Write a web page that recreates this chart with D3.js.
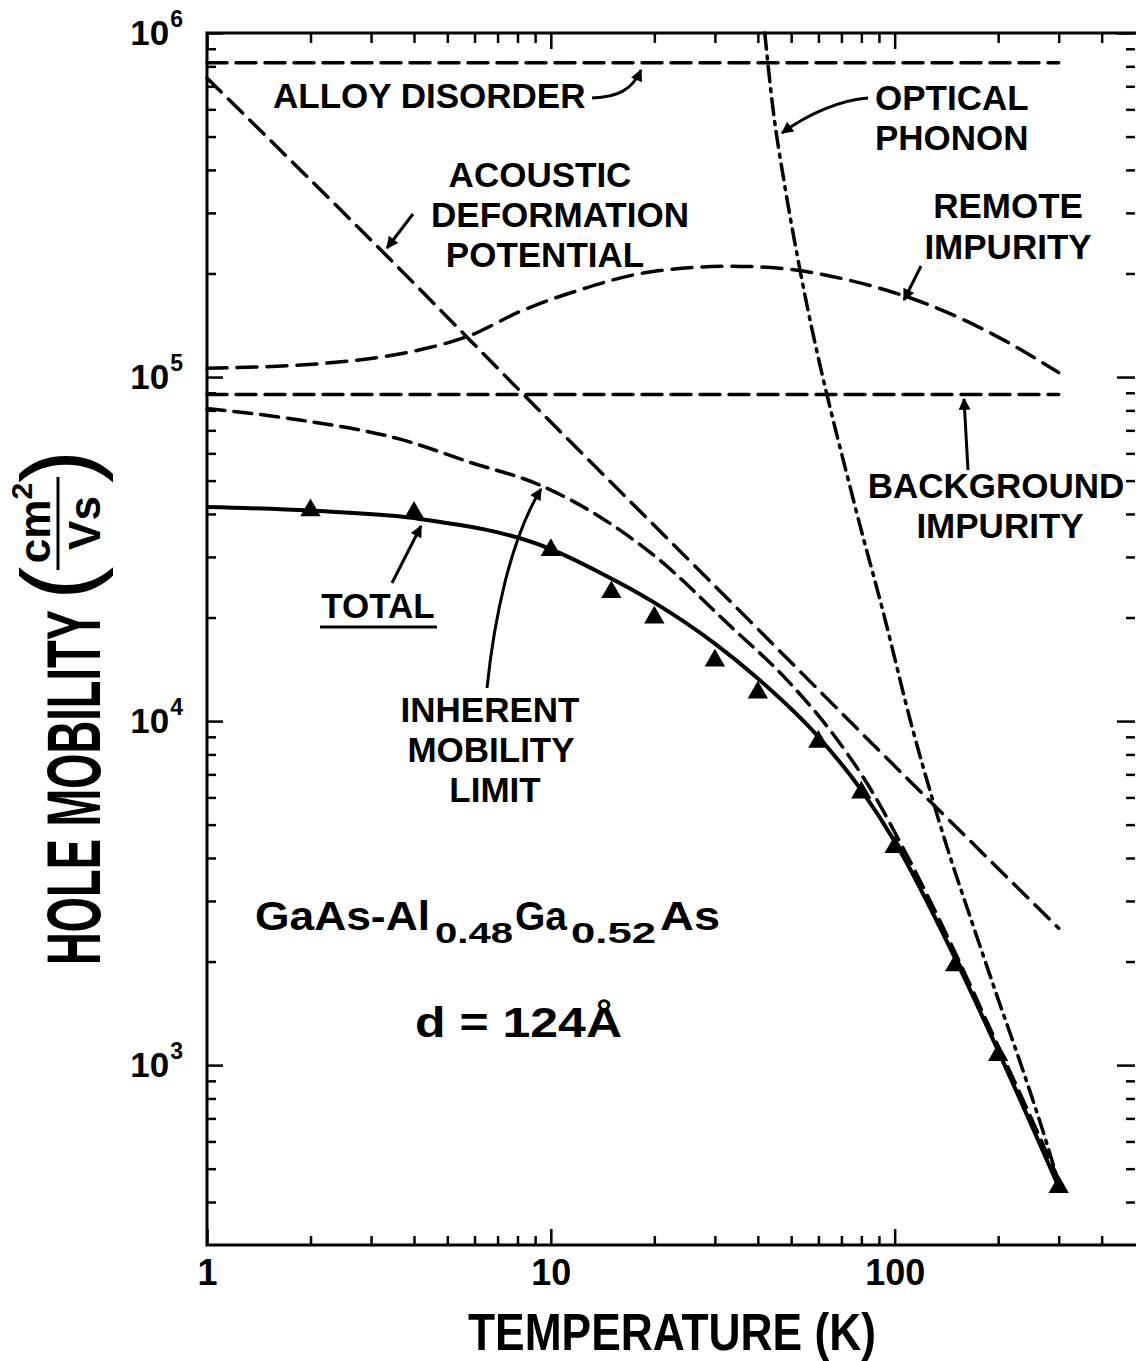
<!DOCTYPE html>
<html>
<head>
<meta charset="utf-8">
<script src="https://cdn.jsdelivr.net/npm/d3@7"></script>
<style>
  body { margin: 0; background: #fff; }
  svg { display: block; }
  text { font-family: "Liberation Sans", Arial, Helvetica, sans-serif; font-weight: bold; fill: #000; }
</style>
</head>
<body>
<div id="chart"></div>
<script>
// ---- data (T in K, mobility in cm^2/Vs) ----
const alloyT = [1, 300];
const alloyMu = [8.2e5, 8.2e5];

const backgroundT = [1, 300];
const backgroundMu = [8.9e4, 8.9e4];

const acousticT = [1, 3, 10, 30, 100, 300];
const acousticMu = [7.4e5, 2.5e5, 7.4e4, 2.47e4, 7.4e3, 2.5e3];

const remoteT = [1, 2.28, 4.16, 5.82, 8.13, 12.1, 19.4, 33.1, 46.3, 74, 126, 202, 300];
const remoteMu = [1.06e5, 1.1e5, 1.2e5, 1.32e5, 1.55e5, 1.79e5, 2.02e5, 2.1e5, 2.07e5, 1.91e5, 1.62e5, 1.3e5, 1.03e5];

const opticalT = [41.9, 44.2, 47.9, 52.6, 76.5, 92.3, 113, 129, 142, 167, 198, 236, 278, 300];
const opticalMu = [1e6, 6.1e5, 3.6e5, 2.14e5, 4.25e4, 2.1e4, 9.4e3, 5.9e3, 4.3e3, 2.64e3, 1.6e3, 966, 585, 454];

const inherentT = [1, 1.86, 3.64, 5.8, 9.3, 13.9, 20.7, 32.5, 48.5, 66, 86.3, 103, 124, 144, 198, 259, 300];
const inherentMu = [8.1e4, 7.5e4, 6.6e4, 5.66e4, 4.85e4, 3.92e4, 2.94e4, 1.93e4, 1.32e4, 9.2e3, 6.2e3, 4.5e3, 3.14e3, 2.31e3, 1.16e3, 646, 463];

const totalT = [1, 2, 4, 10, 14, 20, 30, 40, 60, 80, 100, 150, 200, 300];
const totalMu = [4.19e4, 4.09e4, 3.89e4, 3.16e4, 2.69e4, 2.21e4, 1.68e4, 1.33e4, 9.0e3, 6.3e3, 4.47e3, 2.04e3, 1.1e3, 442];

const dataT = [2, 4, 10, 15, 20, 30, 40, 60, 80, 100, 150, 200, 300];
const dataMu = [4.1e4, 4.03e4, 3.14e4, 2.37e4, 2.0e4, 1.5e4, 1.21e4, 8.7e3, 6.2e3, 4.3e3, 1.95e3, 1.07e3, 442];

const xMajor = [1, 10, 100];
const xLabels = ['1', '10', '100'];
const yMajor = [1e3, 1e4, 1e5, 1e6];
const yExp = ['3', '4', '5', '6'];

// ---- layout ----
const W = 1136, H = 1361;
const x0 = 207, x1 = 1135, y0 = 33, y1 = 1245;

const svg = d3.select('#chart').append('svg')
  .attr('width', W).attr('height', H);

const x = d3.scaleLog().domain([1, 500]).range([x0, x1]);
const y = d3.scaleLog().domain([300, 1e6]).range([y1, y0]);

const xMinor = x.ticks().filter(d => !xMajor.includes(d) && d < 500);
const yMinor = y.ticks().filter(d => !yMajor.includes(d) && d > 300);

// axes: ticks point inward on all four sides
function styleAxis(g, w) {
  g.select('.domain').remove();
  g.selectAll('.tick line').attr('stroke', '#000').attr('stroke-width', w);
}

// bottom
svg.append('g').attr('transform', `translate(0,${y1})`)
  .call(d3.axisBottom(x).tickValues(xMajor).tickSizeInner(-16).tickSizeOuter(0)
    .tickPadding(14).tickFormat((d, i) => xLabels[i]))
  .call(g => styleAxis(g, 2.5))
  .call(g => g.selectAll('text').attr('font-size', 36).attr('dy', '0.72em')
    .style('font-family', '"Liberation Sans", Arial, sans-serif').style('font-weight', 'bold'));
svg.append('g').attr('transform', `translate(0,${y1})`)
  .call(d3.axisBottom(x).tickValues(xMinor).tickSizeInner(-9).tickSizeOuter(0).tickFormat(''))
  .call(g => styleAxis(g, 2.5));

// top
[[xMajor, 16], [xMinor, 10]].forEach(([vals, len]) => {
  svg.append('g').attr('transform', `translate(0,${y0})`)
    .call(d3.axisTop(x).tickValues(vals).tickSizeInner(-len).tickSizeOuter(0).tickFormat(''))
    .call(g => styleAxis(g, 2.5));
});

// left
[[yMajor, 16], [yMinor, 9]].forEach(([vals, len]) => {
  svg.append('g').attr('transform', `translate(${x0},0)`)
    .call(d3.axisLeft(y).tickValues(vals).tickSizeInner(-len).tickSizeOuter(0).tickFormat(''))
    .call(g => styleAxis(g, 2.5));
});
// right (its axis line falls just outside the picture)
[[yMajor, 18], [yMinor, 9]].forEach(([vals, len]) => {
  svg.append('g').attr('transform', `translate(${x1},0)`)
    .call(d3.axisLeft(y).tickValues(vals).tickSizeInner(len).tickSizeOuter(0).tickFormat(''))
    .call(g => styleAxis(g, 2.5));
});

// frame
svg.append('path')
  .attr('d', `M${W},${y0}H${x0}V${y1}H${W}`)
  .attr('fill', 'none').attr('stroke', '#000').attr('stroke-width', 3);

// y tick labels 10^n
const yl = svg.append('g');
yMajor.forEach((v, i) => {
  const t = yl.append('text')
    .attr('x', 183).attr('y', y(v) + 12)
    .attr('text-anchor', 'end').attr('font-size', 35);
  t.append('tspan').text('10');
  t.append('tspan').attr('font-size', 23).attr('dy', -18).attr('dx', 1).text(yExp[i]);
});

// ---- curves ----
const line = d3.line().x(d => x(d[0])).y(d => y(d[1])).curve(d3.curveMonotoneX);
const zipT = (ts, ms) => ts.map((t, i) => [t, ms[i]]);

const curves = [
  { ts: alloyT, ms: alloyMu, dash: '20,9', w: 3.5 },
  { ts: backgroundT, ms: backgroundMu, dash: '20,9', w: 3.5 },
  { ts: acousticT, ms: acousticMu, dash: '20,10', w: 3.5 },
  { ts: remoteT, ms: remoteMu, dash: '20,10', w: 3.5 },
  { ts: inherentT, ms: inherentMu, dash: '18,9', w: 3.5 },
  { ts: opticalT, ms: opticalMu, dash: '16,7,3,7', w: 3.5 },
  { ts: totalT, ms: totalMu, dash: null, w: 4 }
];

svg.append('g').selectAll('path')
  .data(curves)
  .join('path')
  .attr('d', c => line(zipT(c.ts, c.ms)))
  .attr('fill', 'none')
  .attr('stroke', '#000')
  .attr('stroke-width', c => c.w)
  .attr('stroke-dasharray', c => c.dash)
  .attr('stroke-linecap', c => c.dash ? 'round' : 'butt');

// data points
svg.append('g').selectAll('path')
  .data(zipT(dataT, dataMu))
  .join('path')
  .attr('transform', d => `translate(${x(d[0])},${y(d[1])})`)
  .attr('d', d3.symbol().type(d3.symbolTriangle).size(180))
  .attr('fill', '#000');

// ---- annotations ----
const labels = [
  ['ALLOY DISORDER', 273, 108, 'start'],
  ['OPTICAL', 875, 110, 'start'],
  ['PHONON', 875, 150, 'start'],
  ['ACOUSTIC', 540, 187, 'middle'],
  ['DEFORMATION', 560, 227, 'middle'],
  ['POTENTIAL', 545, 267, 'middle'],
  ['REMOTE', 1008, 218, 'middle'],
  ['IMPURITY', 1008, 259, 'middle'],
  ['BACKGROUND', 996, 498, 'middle'],
  ['IMPURITY', 1000, 538, 'middle'],
  ['TOTAL', 378, 618, 'middle'],
  ['INHERENT', 490, 722, 'middle'],
  ['MOBILITY', 491, 762, 'middle'],
  ['LIMIT', 495, 802, 'middle']
];
svg.append('g').selectAll('text')
  .data(labels)
  .join('text')
  .attr('x', d => d[1]).attr('y', d => d[2])
  .attr('text-anchor', d => d[3])
  .attr('font-size', 35)
  .text(d => d[0]);

// TOTAL underline
svg.append('line').attr('x1', 320).attr('x2', 437).attr('y1', 627).attr('y2', 627)
  .attr('stroke', '#000').attr('stroke-width', 3);

// arrows
const defs = svg.append('defs');
defs.append('marker')
  .attr('id', 'ah').attr('viewBox', '0 0 10 10').attr('refX', 9).attr('refY', 5)
  .attr('markerWidth', 5).attr('markerHeight', 4).attr('markerUnits', 'strokeWidth')
  .attr('orient', 'auto')
  .append('path').attr('d', 'M0,0L10,5L0,10Z').attr('fill', '#000');

const arrows = [
  'M592,98 C618,97 632,90 641,70',
  'M868,98 C840,100 808,114 782,133',
  'M413,214 L387,248',
  'M921,266 L904,300',
  'M968,470 L964,399',
  'M392,583 L421,526',
  'M487,688 C494,620 510,540 541,489'
];
svg.append('g').selectAll('path')
  .data(arrows)
  .join('path')
  .attr('d', d => d)
  .attr('fill', 'none').attr('stroke', '#000').attr('stroke-width', 3)
  .attr('marker-end', 'url(#ah)');

// sample description (pieces placed to match the original lettering)
const sample = [
  ['GaAs-Al', 255, 930, 40, 175],
  ['0.48', 435, 943, 30, 78],
  ['Ga', 515, 930, 40, 52],
  ['0.52', 571, 943, 30, 85],
  ['As', 660, 930, 40, 60]
];
svg.append('g').selectAll('text')
  .data(sample)
  .join('text')
  .attr('x', d => d[1]).attr('y', d => d[2])
  .attr('font-size', d => d[3])
  .attr('textLength', d => d[4]).attr('lengthAdjust', 'spacingAndGlyphs')
  .text(d => d[0]);

svg.append('text').attr('x', 415).attr('y', 1037).attr('font-size', 42)
  .attr('textLength', 207).attr('lengthAdjust', 'spacingAndGlyphs')
  .text('d = 124Å');

// axis titles
svg.append('text')
  .attr('x', 468).attr('y', 1350)
  .attr('font-size', 52)
  .attr('textLength', 408).attr('lengthAdjust', 'spacingAndGlyphs')
  .text('TEMPERATURE (K)');

const yt = svg.append('g').attr('transform', 'translate(100,0) rotate(-90)');
yt.append('text')
  .attr('x', -965).attr('y', 0)
  .attr('font-size', 76)
  .attr('textLength', 355).attr('lengthAdjust', 'spacingAndGlyphs')
  .text('HOLE MOBILITY');
yt.append('text').attr('x', -600).attr('y', -8).attr('font-size', 100)
  .style('font-weight', 'normal').text('(');
yt.append('text').attr('x', -483).attr('y', -8).attr('font-size', 100)
  .style('font-weight', 'normal').text(')');
const num = yt.append('text').attr('x', -523).attr('y', -50)
  .attr('text-anchor', 'middle').attr('font-size', 44);
num.append('tspan').text('cm');
num.append('tspan').attr('font-size', 30).attr('dy', -18).text('2');
yt.append('text').attr('x', -523).attr('y', 0)
  .attr('text-anchor', 'middle').attr('font-size', 44).text('Vs');
yt.append('line').attr('x1', -570).attr('x2', -477).attr('y1', -42).attr('y2', -42)
  .attr('stroke', '#000').attr('stroke-width', 3);
</script>
</body>
</html>
